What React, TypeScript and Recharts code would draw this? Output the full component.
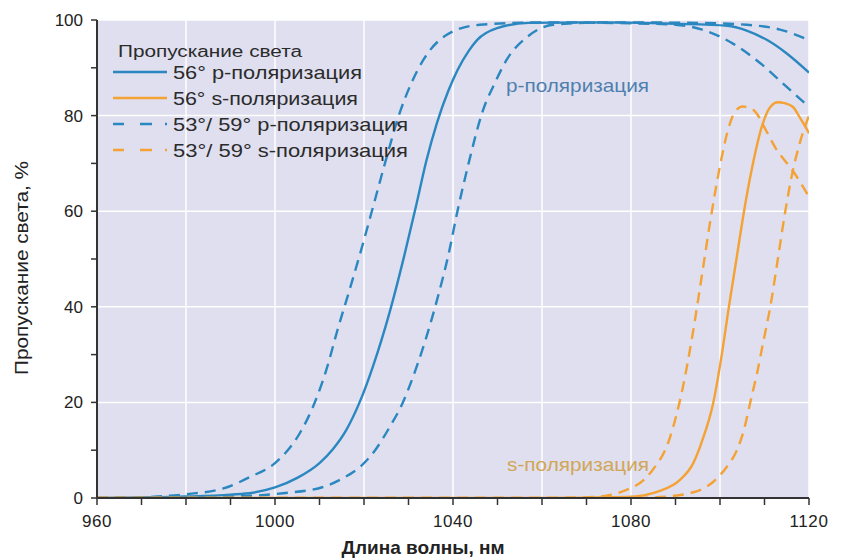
import React from "react";
import { LineChart, Line, XAxis, YAxis, CartesianGrid } from "recharts";

// wavelength, nm / transmission, %
const p56Wl = [960, 980, 990, 995, 1000, 1005, 1010, 1013, 1016, 1019, 1022, 1025.8, 1029, 1031.8, 1034, 1036.4, 1039, 1041, 1043.5, 1045.4, 1049.9, 1057, 1070, 1090, 1101.6, 1106, 1110.6, 1115, 1120];
const p56T = [0, 0.3, 0.7, 1.1, 2.2, 4.2, 7.3, 10.2, 14.2, 20, 27.5, 39, 50.5, 61.5, 70.5, 78.5, 85.3, 89.5, 93.5, 95.8, 98.3, 99.4, 99.5, 99.2, 98.8, 97.8, 95.8, 93, 89];

const s56Wl = [960, 1060, 1079, 1086.5, 1091, 1094, 1096, 1098.5, 1100.4, 1102, 1103.7, 1105.4, 1107.3, 1109.5, 1111.3, 1113, 1114.5, 1116.4, 1118, 1120];
const s56T = [0, 0, 0.2, 1.5, 3.8, 7.3, 12, 20, 30, 40, 50, 60, 69.5, 78, 81.8, 82.8, 82.6, 81.8, 79.5, 76.3];

const p53Wl = [960, 973.5, 980, 988.4, 994.4, 1000, 1005.6, 1008.5, 1011.6, 1014, 1016.9, 1019.7, 1022.5, 1025, 1028, 1030.5, 1033.3, 1038.6, 1046, 1060, 1080, 1090, 1096, 1103, 1109, 1115, 1120];
const p53T = [0, 0.3, 0.8, 2, 4.4, 7.3, 13.6, 19, 27, 35, 44, 53, 62.5, 71, 80.5, 86.5, 91.6, 96.9, 99, 99.5, 99.3, 99, 98, 95, 91, 86, 81.8];

const p59Wl = [960, 990, 1001.8, 1010.8, 1015, 1019.1, 1022.5, 1025.8, 1028.5, 1031, 1033.8, 1036.4, 1039, 1041, 1043.5, 1046.7, 1049.5, 1052, 1056.6, 1062.5, 1075, 1095, 1106, 1113.5, 1120];
const p59T = [0, 0.3, 1, 2.3, 4, 6.5, 10, 14.9, 19.5, 25.3, 33, 41.4, 51, 60, 70, 81, 87, 91.6, 96.4, 99, 99.5, 99.4, 99, 98, 95.8];

const s53Wl = [960, 1060, 1071.5, 1079, 1084.3, 1088.8, 1091.5, 1093.8, 1096, 1098, 1100, 1101.8, 1103.3, 1105, 1106.5, 1108.2, 1110, 1112.5, 1116.4, 1120];
const s53T = [0, 0, 0.2, 1.7, 5.2, 12.8, 22.5, 34, 47, 59, 69.5, 77, 80.7, 81.9, 81.7, 80.5, 77.5, 73.2, 68.4, 63];

const s59Wl = [960, 1080, 1086.5, 1094, 1098.5, 1101.5, 1103.8, 1105.3, 1106.8, 1108.3, 1109.8, 1111.3, 1113, 1114.6, 1116.4, 1118, 1120];
const s59T = [0, 0, 0.2, 1.2, 3.4, 6.5, 10, 14, 20, 26, 33, 40, 50, 59.6, 68.6, 74.5, 80];

const xTicks = [960, 970, 980, 990, 1000, 1010, 1020, 1030, 1040, 1050, 1060, 1070, 1080, 1090, 1100, 1110, 1120];
const xLabels = [960, 1000, 1040, 1080, 1120];
const xGrid = [980, 1000, 1020, 1040, 1060, 1080, 1100];
const yTicks = [0, 10, 20, 30, 40, 50, 60, 70, 80, 90, 100];
const yLabels = [0, 20, 40, 60, 80, 100];
const yGrid = [20, 40, 60, 80];

const legendItems = [
  { name: "56° p-поляризация", color: "#2b87bf", dashed: false, len: 189 },
  { name: "56° s-поляризация", color: "#f4a233", dashed: false, len: 185 },
  { name: "53°/ 59° p-поляризация", color: "#2b87bf", dashed: true, len: 235 },
  { name: "53°/ 59° s-поляризация", color: "#f4a233", dashed: true, len: 235 },
];

const BLUE = "#2b87bf";
const ORANGE = "#f4a233";
const AXIS = "#333";
const FONT = "'Liberation Sans', Arial, sans-serif";
const NARROW = "'Liberation Sans Narrow', 'Liberation Sans', Arial, sans-serif";
const DASH = "11 7";

const toPoints = (wl: number[], t: number[]) => wl.map((x, i) => ({ x, t: t[i] }));

const series = [
  { key: "p56", data: toPoints(p56Wl, p56T), color: BLUE, dash: undefined },
  { key: "p53", data: toPoints(p53Wl, p53T), color: BLUE, dash: DASH },
  { key: "p59", data: toPoints(p59Wl, p59T), color: BLUE, dash: DASH },
  { key: "s56", data: toPoints(s56Wl, s56T), color: ORANGE, dash: undefined },
  { key: "s53", data: toPoints(s53Wl, s53T), color: ORANGE, dash: DASH },
  { key: "s59", data: toPoints(s59Wl, s59T), color: ORANGE, dash: DASH },
];

const NoTick = () => <g />;

const XTick = (props: any) => {
  const { x, y, payload } = props;
  if (!xLabels.includes(payload.value)) return <g />;
  return (
    <text x={x} y={y + 20} textAnchor="middle" fontSize={17} fill="#222" fontFamily={FONT} letterSpacing={0.6}>
      {payload.value}
    </text>
  );
};

const YTick = (props: any) => {
  const { x, y, payload } = props;
  if (!yLabels.includes(payload.value)) return <g />;
  return (
    <text x={x - 6} y={y + 6} textAnchor="end" fontSize={17} fill="#222" fontFamily={FONT}>
      {payload.value}
    </text>
  );
};

export default function App() {
  return (
    <div style={{ position: "absolute", left: 0, top: 0, width: 844, height: 560, background: "#fff" }}>
      <LineChart width={844} height={560} margin={{ top: 20, right: 35, bottom: 0, left: 0 }}>
        <CartesianGrid xAxisId="g" yAxisId="g" stroke="#ffffff" strokeWidth={1.5} fill="#dfdff0" fillOpacity={1} />
        <XAxis xAxisId="g" dataKey="x" type="number" domain={[960, 1120]} ticks={xGrid} interval={0} allowDataOverflow height={0} tick={<NoTick />} axisLine={false} tickLine={false} />
        <XAxis
          xAxisId="t"
          dataKey="x"
          type="number"
          domain={[960, 1120]}
          ticks={xTicks}
          interval={0}
          allowDataOverflow
          height={62}
          tick={<XTick />}
          tickSize={7}
          axisLine={{ stroke: AXIS, strokeWidth: 2 }}
          tickLine={{ stroke: AXIS, strokeWidth: 1.5 }}
          label={{
            content: (p: any) => {
              const vb = p.viewBox;
              return (
                <text x={vb.x + vb.width / 2 - 30} y={vb.y + 56} textAnchor="middle" fontSize={19} fontWeight="bold" fill="#222" fontFamily={NARROW} textLength={163} lengthAdjust="spacingAndGlyphs">
                  Длина волны, нм
                </text>
              );
            },
          }}
        />
        <XAxis xAxisId="top" orientation="top" dataKey="x" type="number" domain={[960, 1120]} height={0} tick={false} tickLine={false} axisLine={{ stroke: AXIS, strokeWidth: 2 }} />
        <YAxis yAxisId="g" type="number" domain={[0, 100]} ticks={yGrid} interval={0} allowDataOverflow width={0} tick={<NoTick />} axisLine={false} tickLine={false} />
        <YAxis
          yAxisId="t"
          type="number"
          domain={[0, 100]}
          ticks={yTicks}
          interval={0}
          allowDataOverflow
          width={97}
          tick={<YTick />}
          tickSize={6}
          axisLine={{ stroke: AXIS, strokeWidth: 2 }}
          tickLine={{ stroke: AXIS, strokeWidth: 1.5 }}
          label={{
            content: () => (
              <text x={28} y={268} transform="rotate(-90 28 268)" textAnchor="middle" fontSize={18} fill="#222" fontFamily={NARROW} textLength={214} lengthAdjust="spacingAndGlyphs">
                Пропускание света, %
              </text>
            ),
          }}
        />
        <YAxis yAxisId="right" orientation="right" type="number" domain={[0, 100]} width={0} tick={false} tickLine={false} axisLine={{ stroke: AXIS, strokeWidth: 2 }} />
        {series.map((s) => (
          <Line
            key={s.key}
            xAxisId="g"
            yAxisId="g"
            data={s.data}
            dataKey="t"
            type="monotone"
            stroke={s.color}
            strokeWidth={2.4}
            strokeDasharray={s.dash}
            dot={false}
            activeDot={false}
            isAnimationActive={false}
          />
        ))}
      </LineChart>
      <svg width={844} height={560} style={{ position: "absolute", left: 0, top: 0, pointerEvents: "none" }}>
        <text x={118} y={57} fontSize={16} fill="#2b2b2b" fontFamily={FONT} textLength={184} lengthAdjust="spacingAndGlyphs">
          Пропускание света
        </text>
        {legendItems.map((it, i) => {
          const cy = 72 + i * 26;
          return (
            <g key={it.name}>
              <line x1={113} x2={167} y1={cy} y2={cy} stroke={it.color} strokeWidth={2.4} strokeDasharray={it.dashed ? "11 16 12 13 2" : undefined} />
              <text x={173} y={cy + 7} fontSize={19} fill="#2b2b2b" fontFamily={FONT} textLength={it.len} lengthAdjust="spacingAndGlyphs">
                {it.name}
              </text>
            </g>
          );
        })}
        <text x={506} y={92} fontSize={19} fill="#4f7fae" fontFamily={FONT} textLength={143} lengthAdjust="spacingAndGlyphs">
          p-поляризация
        </text>
        <text x={507} y={471} fontSize={19} fill="#d2a656" fontFamily={FONT} textLength={142} lengthAdjust="spacingAndGlyphs">
          s-поляризация
        </text>
      </svg>
    </div>
  );
}
